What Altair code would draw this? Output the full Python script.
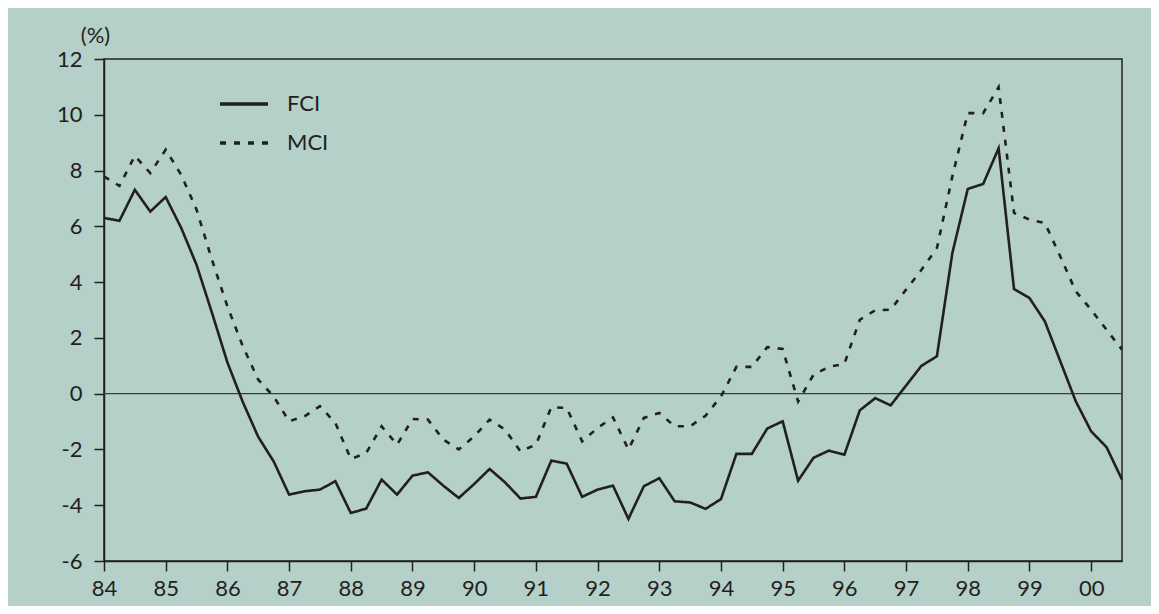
import altair as alt
import pandas as pd

# Quarterly observations, 1984Q1 .. 2000Q3 (x in years, 100 = 2000)
start_year = 84
fci = [6.30, 6.20, 7.31, 6.53, 7.05, 5.95, 4.62, 2.90, 1.12, -0.30, -1.55, -2.43,
       -3.62, -3.50, -3.44, -3.14, -4.28, -4.12, -3.08, -3.62, -2.94, -2.82, -3.30, -3.74,
       -3.24, -2.70, -3.18, -3.76, -3.70, -2.40, -2.51, -3.70, -3.44, -3.30, -4.49, -3.32,
       -3.03, -3.86, -3.90, -4.13, -3.78, -2.16, -2.16, -1.25, -0.99, -3.12, -2.30, -2.04,
       -2.19, -0.60, -0.16, -0.42, 0.29, 1.00, 1.34, 5.04, 7.34, 7.52, 8.80, 3.75,
       3.43, 2.59, 1.16, -0.27, -1.35, -1.92, -3.08]
mci = [7.79, 7.45, 8.53, 7.91, 8.75, 7.85, 6.60, 4.80, 3.13, 1.70, 0.50, -0.10,
       -0.99, -0.81, -0.45, -1.05, -2.34, -2.13, -1.17, -1.83, -0.91, -0.93, -1.65, -2.00,
       -1.53, -0.93, -1.29, -2.07, -1.83, -0.49, -0.51, -1.71, -1.23, -0.85, -2.00, -0.87,
       -0.69, -1.17, -1.17, -0.79, -0.10, 0.96, 0.96, 1.67, 1.60, -0.28, 0.68, 0.96,
       1.07, 2.65, 2.99, 3.01, 3.73, 4.44, 5.22, 7.79, 10.06, 10.06, 10.99, 6.48,
       6.24, 6.12, 4.92, 3.67, 3.01, 2.29, 1.58]
series_names = ["FCI", "MCI"]
year_ticks = list(range(84, 101))
y_ticks = [-6, -4, -2, 0, 2, 4, 6, 8, 10, 12]

rows = []
for name, vals in zip(series_names, [fci, mci]):
    for i, v in enumerate(vals):
        rows.append({"t": start_year + i * 0.25, "value": v, "series": name})
df = pd.DataFrame(rows)

INK = "#231f20"
BG = "#b4d0c9"
FONT = "Lato"
FS = 22

legend_kw = dict(title=None, orient="none", legendX=114, legendY=19,
                 symbolType="stroke", symbolSize=2304, symbolStrokeWidth=3.5,
                 labelFontSize=FS, labelFont=FONT, labelColor=INK, labelOffset=17,
                 rowPadding=2, padding=0)

lines = alt.Chart(df).mark_line(strokeWidth=2.6, strokeJoin="miter").encode(
    x=alt.X("t:Q", scale=alt.Scale(domain=[84, 100.5], nice=False, zero=False),
            axis=alt.Axis(values=year_ticks, title=None, grid=False,
                          labelExpr="datum.value >= 100 ? '00' : toString(datum.value)",
                          tickSize=10, labelPadding=7, labelFlush=False)),
    y=alt.Y("value:Q", scale=alt.Scale(domain=[-6, 12], nice=False),
            axis=alt.Axis(values=y_ticks, title="(%)", grid=False, tickSize=10,
                          labelExpr="toString(datum.value)",
                          labelPadding=12, titleAngle=0, titleX=-9, titleY=-24,
                          titleAlign="center", titleBaseline="middle",
                          titleFontWeight="normal", titleFontSize=FS, titleFont=FONT,
                          titleColor=INK)),
    color=alt.Color("series:N", sort=series_names,
                    scale=alt.Scale(domain=series_names, range=[INK, INK]),
                    legend=alt.Legend(**legend_kw)),
    strokeDash=alt.StrokeDash("series:N", sort=series_names,
                              scale=alt.Scale(domain=series_names, range=[[1, 0], [6, 8]]),
                              legend=alt.Legend(**legend_kw)),
)

zero = alt.Chart(pd.DataFrame({"z": [0]})).mark_rule(color="#3d3d3d", strokeWidth=1.4).encode(
    y="z:Q"
)

chart = alt.layer(zero, lines).properties(
    width=1018, height=502,
    background=BG,
    padding={"left": 96, "top": 51, "right": 29, "bottom": 45},
    autosize=alt.AutoSizeParams(type="none"),
).configure_view(
    stroke=INK, strokeWidth=1.5
).configure_axis(
    domainColor=INK, domainWidth=1.5, tickColor=INK, tickWidth=1.5,
    labelFont=FONT, labelFontSize=FS, labelColor=INK
)

chart.save("out.html", embed_options={"renderer": "svg", "actions": False})
